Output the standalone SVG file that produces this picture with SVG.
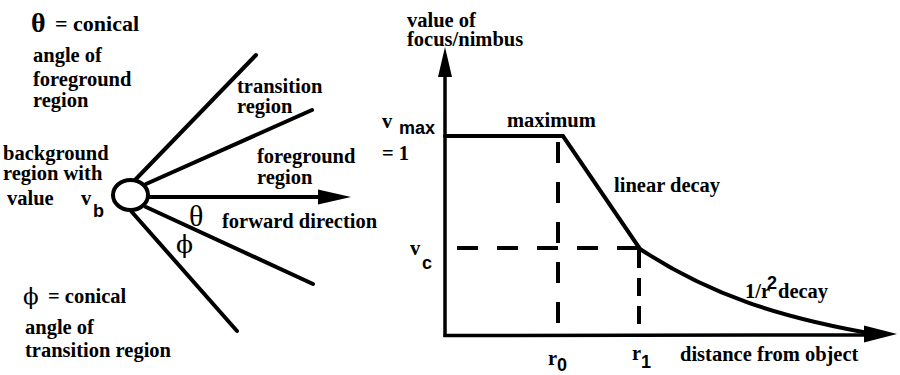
<svg xmlns="http://www.w3.org/2000/svg" width="900" height="375" viewBox="0 0 900 375">
<style>
.ln{stroke:#000;stroke-width:4;stroke-linecap:round;fill:none}
.ax{stroke:#000;stroke-width:3.5;fill:none}
.d1{stroke:#000;stroke-width:4;fill:none;stroke-dasharray:21 19}
.d2{stroke:#000;stroke-width:4;fill:none;stroke-dasharray:18 10}
.sub{font-family:"Liberation Sans",Arial,sans-serif;font-size:18px}
.phi{font-family:"DejaVu Serif","Liberation Serif",serif;font-weight:normal}
</style>
<rect width="900" height="375" fill="#fff"/>

<g id="cone">
  <ellipse id="object" cx="130.5" cy="195" rx="17.5" ry="15" fill="#fff" stroke="#000" stroke-width="4"/>
</g>

<g id="connectors">
  <line class="ln" x1="136" y1="179" x2="256" y2="55"/>
  <line class="ln" x1="146" y1="184" x2="312" y2="110"/>
  <line class="ln" x1="149" y1="197" x2="322" y2="197"/>
  <polygon points="351,197 318,189.5 318,204.5" fill="#000"/>
  <line class="ln" x1="146" y1="207" x2="313" y2="284"/>
  <line class="ln" x1="131" y1="211" x2="237" y2="331"/>

  <line class="ax" x1="445" y1="337" x2="445" y2="72"/>
  <polygon points="445,47 438,77 452,77" fill="#000"/>
  <line class="ax" x1="443.5" y1="335.5" x2="868" y2="335"/>
  <polygon points="897,334 864,325.5 864,342.5" fill="#000"/>

  <path class="ln" d="M445,136 L563,136 L640,249 C710,295 780,318 880,335"/>
  <line class="d1" x1="558" y1="142" x2="558" y2="334"/>
  <line class="d1" x1="457" y1="248" x2="640" y2="248"/>
  <line class="d2" x1="639" y1="250" x2="639" y2="336"/>
</g>

<g font-family="'Liberation Serif', 'Times New Roman', serif" font-weight="bold" font-size="20.5" fill="#000">
<g id="theta-legend">
  <text x="31" y="32" font-size="28">θ</text>
  <text x="55" y="31" font-size="22">= conical</text>
  <text x="33" y="62">angle of</text>
  <text x="33" y="86">foreground</text>
  <text x="33" y="107">region</text>
</g>
<g id="transition-label">
  <text x="237" y="93">transition</text>
  <text x="237" y="113">region</text>
</g>
<g id="background-label">
  <text x="3" y="160">background</text>
  <text x="3" y="180">region with</text>
  <text x="7" y="205">value</text>
  <text x="81" y="205">v</text>
  <text class="sub" x="93" y="217">b</text>
</g>
<g id="foreground-label">
  <text x="257" y="163">foreground</text>
  <text x="257" y="184">region</text>
</g>
<g id="angles">
  <text x="189" y="226" font-size="30" font-weight="normal">θ</text>
  <text x="222" y="228">forward direction</text>
  <text class="phi" x="176" y="253" font-size="25">ϕ</text>
</g>
<g id="phi-legend">
  <text class="phi" x="23" y="304" font-size="23" font-weight="bold">ϕ</text>
  <text x="48" y="303">= conical</text>
  <text x="25" y="334">angle of</text>
  <text x="25" y="357">transition region</text>
</g>

<g id="y-axis-label">
  <text x="407" y="27">value of</text>
  <text x="407" y="46">focus/nimbus</text>
</g>
<g id="vmax-label">
  <text x="382" y="128">v</text>
  <text class="sub" x="399" y="134" font-size="17">max</text>
  <text x="382" y="160">= 1</text>
</g>
<g id="maximum-label"><text x="507" y="127">maximum</text></g>
<g id="linear-label"><text x="614" y="192">linear decay</text></g>
<g id="vc-label">
  <text x="410" y="255">v</text>
  <text class="sub" x="422" y="269">c</text>
</g>
<g id="r0-label">
  <text x="548" y="365">r</text>
  <text class="sub" x="557" y="371">0</text>
</g>
<g id="r1-label">
  <text x="632" y="360">r</text>
  <text class="sub" x="641" y="368">1</text>
</g>
<g id="inverse-label">
  <text x="745" y="298">1/r</text>
  <text class="sub" x="767" y="289" font-size="15">2</text>
  <text x="778" y="298">decay</text>
</g>
<g id="x-axis-label"><text x="680" y="361">distance from object</text></g>
</g>
</svg>
